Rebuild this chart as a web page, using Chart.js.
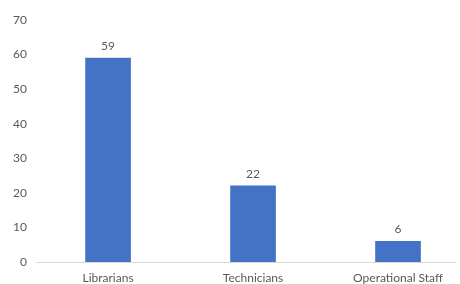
<!DOCTYPE html>
<html><head><meta charset="utf-8">
<script src="https://cdn.jsdelivr.net/npm/chart.js@4/dist/chart.umd.min.js"></script>
<style>html,body{margin:0;padding:0;background:#fff}#wrap{width:460px;height:284px}</style>
</head><body><div id="wrap"><canvas id="c" width="460" height="284"></canvas></div>
<script>
const categories = ["Librarians", "Technicians", "Operational Staff"];
const values = [59, 22, 6];
const yTicks = [0, 10, 20, 30, 40, 50, 60, 70];

const FONT = "Lato";
const TXT = "#595959";

const labelPlugin = {
  id: 'valLabels',
  afterDatasetsDraw(chart) {
    const ctx = chart.ctx;
    const meta = chart.getDatasetMeta(0);
    ctx.save();
    ctx.font = "12px " + FONT;
    ctx.fillStyle = TXT;
    ctx.textAlign = "center";
    ctx.textBaseline = "bottom";
    meta.data.forEach((bar, i) => {
      ctx.fillText(String(values[i]), bar.x, bar.y - 6);
    });
    ctx.restore();
  }
};

new Chart(document.getElementById('c'), {
  type: 'bar',
  data: {
    datasets: [{
      data: values.map((v, i) => ({x: i, y: v})),
      backgroundColor: '#4472C4',
      borderWidth: 0,
      barThickness: 45
    }]
  },
  options: {
    responsive: false,
    animation: false,
    layout: {padding: {top: 20, right: 5, left: 12, bottom: 0}},
    plugins: {legend: {display: false}, tooltip: {enabled: false}},
    scales: {
      x: {
        type: 'linear',
        offset: false,
        min: -0.497,
        max: 2.393,
        afterBuildTicks(scale) { scale.ticks = categories.map((c, i) => ({value: i})); },
        afterFit(scale) { scale.height = 22; },
        ticks: {
          callback: (v) => categories[v],
          color: TXT,
          font: {family: FONT, size: 12},
          padding: 9,
          maxRotation: 0,
          autoSkip: false
        },
        grid: {display: false, drawTicks: false, offset: false},
        border: {display: true, color: '#D9D9D9', width: 1}
      },
      y: {
        min: 0, max: 70,
        afterBuildTicks(scale) { scale.ticks = yTicks.map(v => ({value: v})); },
        afterFit(scale) { scale.width = 24; },
        ticks: {color: TXT, font: {family: FONT, size: 12}, padding: 9},
        grid: {display: false, drawTicks: false},
        border: {display: false}
      }
    }
  },
  plugins: [labelPlugin]
});
</script></body></html>
